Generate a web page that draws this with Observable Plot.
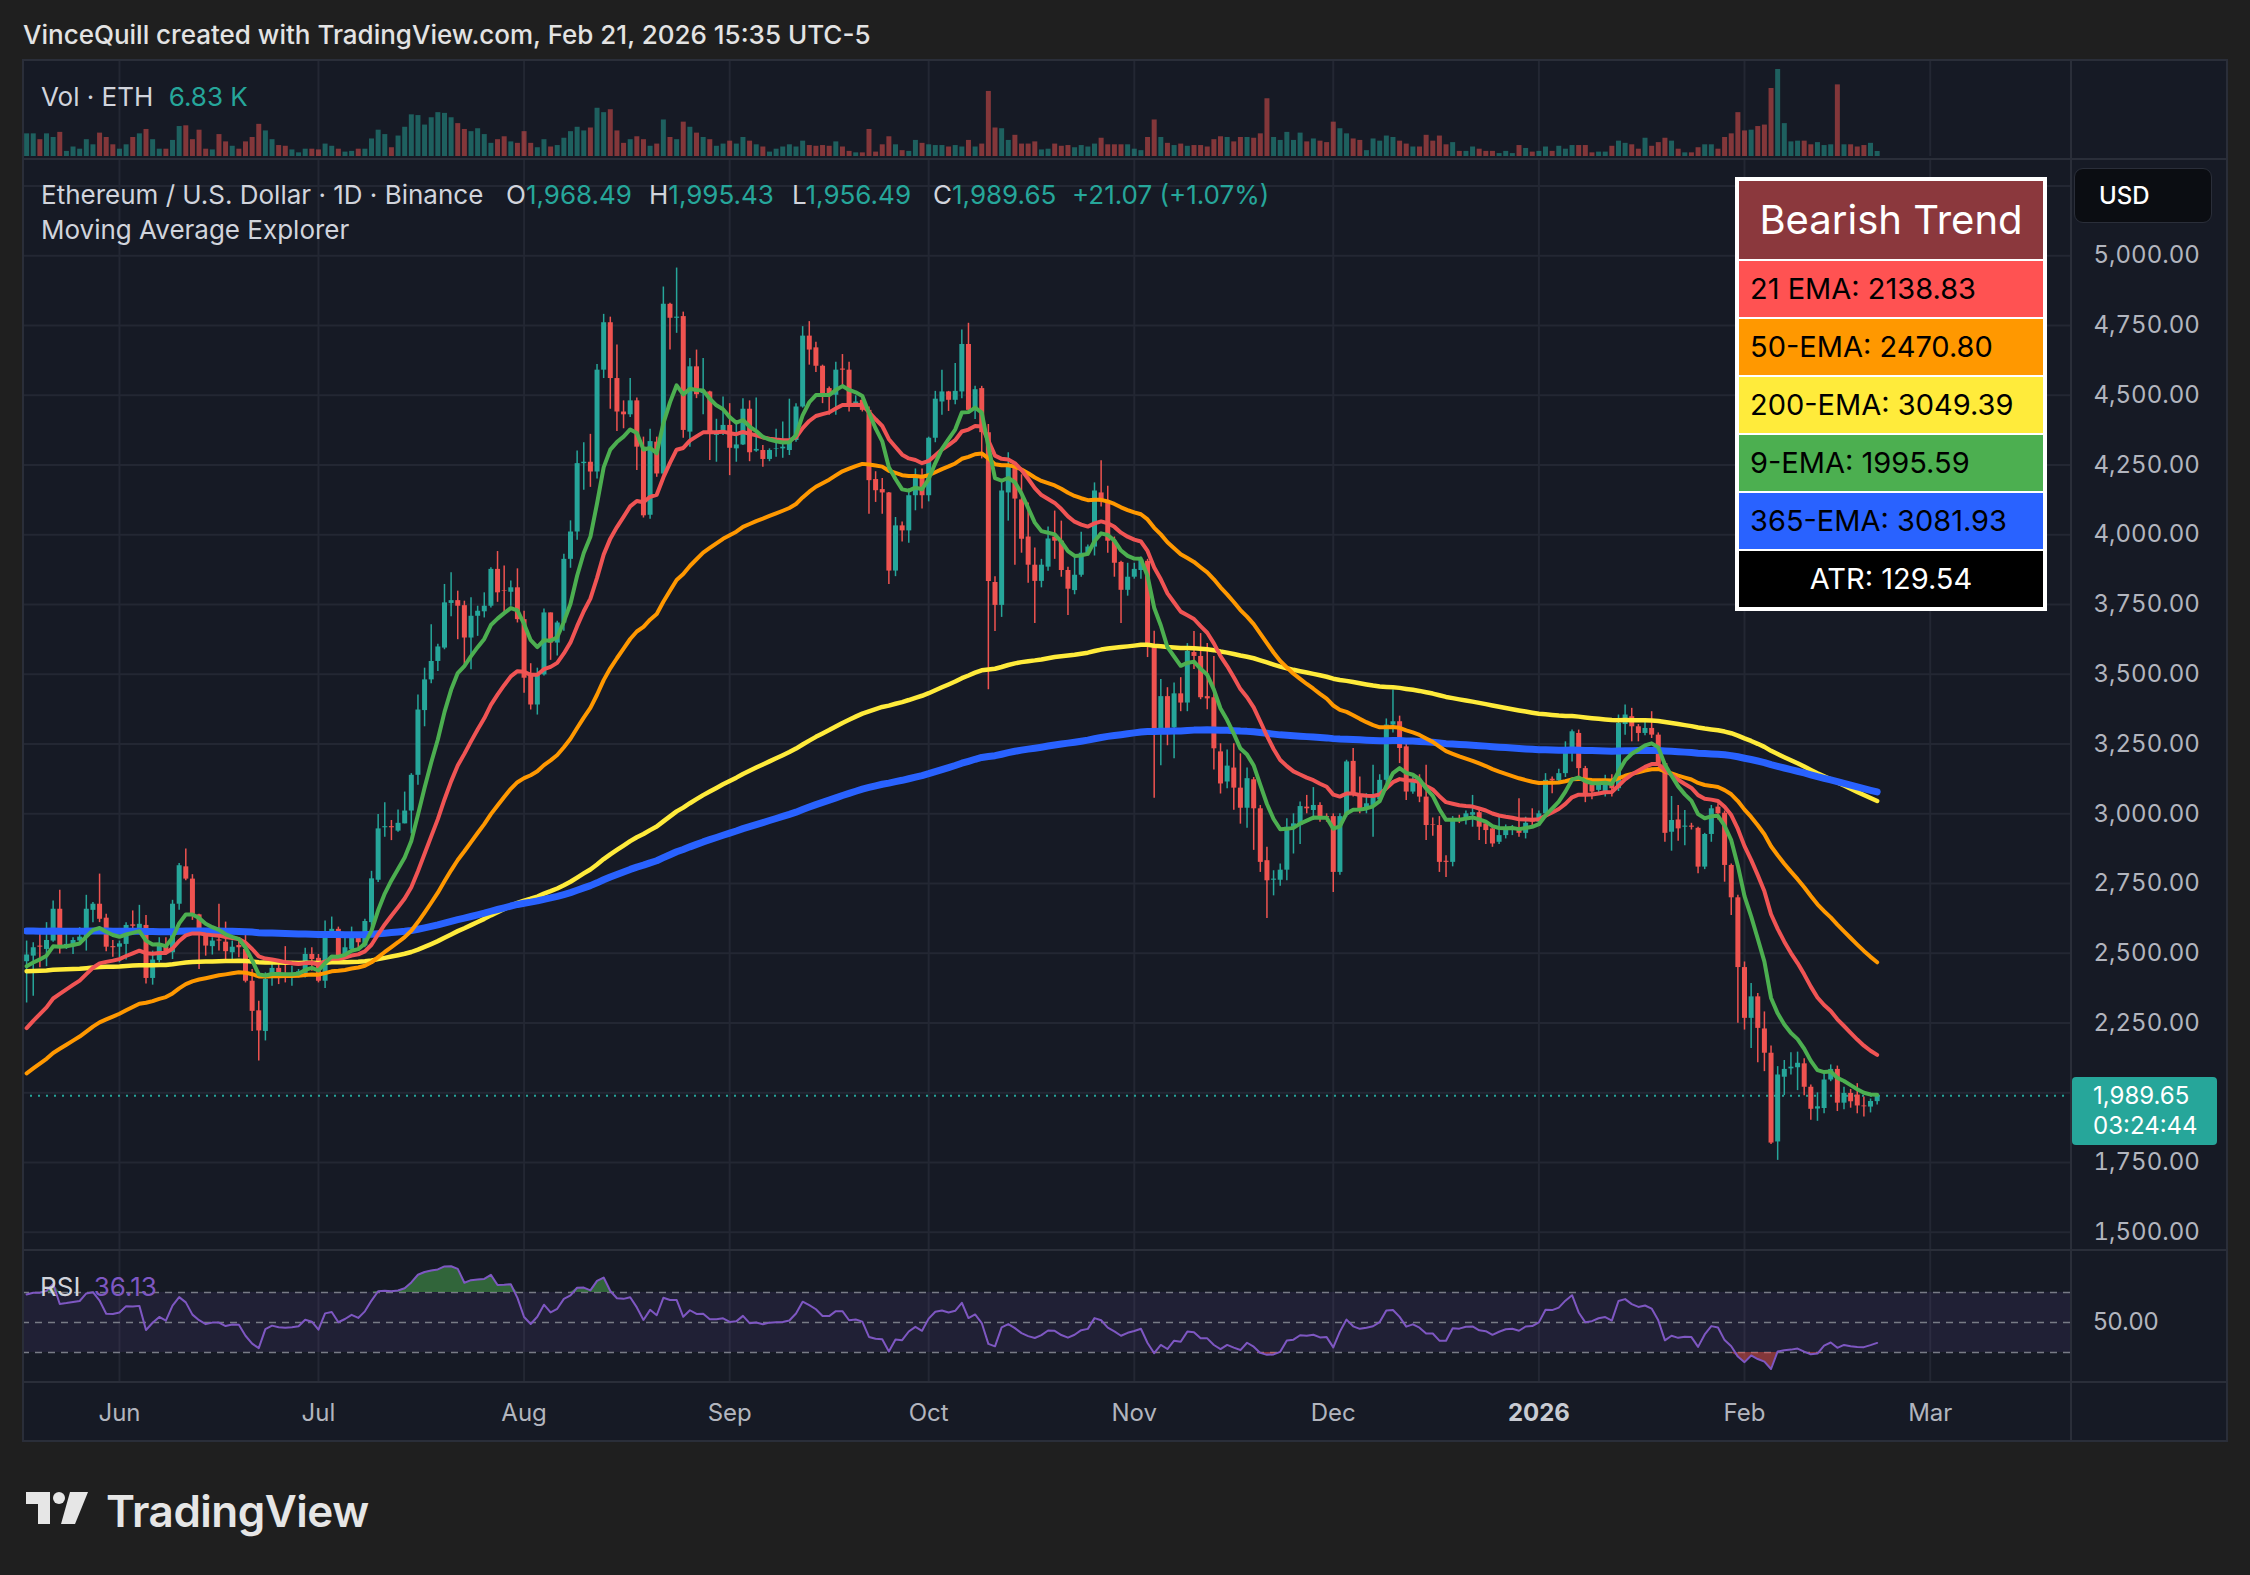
<!DOCTYPE html>
<html><head><meta charset="utf-8">
<script src="https://cdn.jsdelivr.net/npm/d3@7"></script>
<script src="https://cdn.jsdelivr.net/npm/@observablehq/plot@0.6"></script>
<style>
html,body{margin:0;padding:0;background:#1f1f1f;}
#root{position:relative;width:2250px;height:1575px;overflow:hidden;font-family:Inter,"Noto Sans",Roboto,sans-serif;}
.a{position:absolute;white-space:nowrap;}
</style></head>
<body><div id="root"></div>
<script>
// ---------------- DATA (daily ETH/USD, Binance, first bar 2025-05-18) ----------------
const firstDay = "2025-05-18";
const opens = [
2470,2490,2526,2514,2544,2658,2520,2524,2544,2558,
2654,2676,2626,2524,2522,2532,2602,2586,2600,2410,
2474,2522,2502,2676,2810,2766,2638,2574,2524,2548,
2540,2502,2528,2514,2400,2294,2220,2412,2446,2424,
2416,2422,2428,2496,2482,2400,2568,2586,2486,2514,
2562,2526,2610,2762,2950,2954,2938,2964,3010,3138,
3370,3480,3546,3594,3754,3764,3746,3630,3708,3724,
3744,3876,3800,3794,3810,3696,3498,3390,3498,3720,
3612,3684,3912,4010,4255,4260,4225,4590,4760,4560,
4440,4430,4480,4314,4070,4332,4218,4826,4776,4782,
4368,4602,4506,4512,4356,4368,4392,4308,4322,4450,
4300,4302,4270,4306,4308,4302,4338,4458,4712,4670,
4604,4524,4500,4594,4590,4464,4482,4446,4198,4162,
4150,3870,4032,4014,4140,4212,4140,4346,4476,4512,
4482,4512,4682,4445,4524,4366,3829,3747,4150,4243,
4125,3992,3891,3833,3884,3992,3977,3872,3800,3855,
3934,3956,4150,4117,3977,3901,3801,3848,3872,3905,
3603,3287,3420,3308,3430,3397,3578,3564,3420,3416,
3222,3114,3164,3092,3020,3122,3018,2832,2762,2762,
2798,2952,2958,3024,3012,3030,2990,2990,2790,2994,
3188,3066,3018,3030,3050,3120,3318,3330,3240,3078,
3114,3060,2960,2958,2830,2826,2982,2976,2995,3004,
2964,2946,2898,2922,2946,2946,2930,2976,2970,3000,
3124,3118,3144,3222,3288,3162,3102,3084,3078,3108,
3090,3320,3348,3312,3288,3306,3282,3180,2934,2978,
2952,2956,2948,2809,2926,3024,3002,2815,2699,2449,
2267,2344,2229,2142,1824,2056,2086,2090,2104,2020,
1942,1944,2046,2084,1963,1998,1992,1953,1949,1968.49];
const highs = [
2544,2538,2580,2610,2688,2726,2568,2556,2592,2708,
2682,2784,2640,2546,2544,2610,2652,2672,2636,2508,
2556,2556,2690,2822,2874,2782,2640,2580,2556,2676,
2612,2544,2544,2564,2442,2328,2430,2472,2462,2524,
2454,2442,2518,2520,2496,2616,2630,2594,2562,2594,
2574,2622,2794,2998,3040,2976,3014,3078,3144,3426,
3522,3678,3608,3822,3864,3798,3762,3774,3744,3792,
3882,3940,3888,3834,3878,3726,3538,3522,3734,3720,
3690,3930,4050,4300,4330,4360,4610,4790,4780,4680,
4480,4560,4490,4350,4378,4350,4888,4830,4956,4798,
4632,4662,4632,4514,4414,4494,4470,4404,4488,4480,
4490,4320,4308,4378,4404,4486,4470,4746,4764,4690,
4608,4530,4618,4646,4618,4498,4500,4458,4226,4202,
4152,4062,4046,4164,4236,4236,4350,4514,4590,4514,
4614,4734,4758,4532,4532,4395,3850,4193,4294,4258,
4215,4114,3953,3912,4028,4085,4049,3884,3924,4009,
3963,4186,4265,4174,3992,3905,3898,3898,3920,3912,
3654,3481,3452,3469,3488,3610,3653,3646,3610,3564,
3251,3229,3251,3215,3164,3130,3030,2880,2796,2820,
2982,3000,3042,3066,3094,3040,3000,3000,3000,3192,
3234,3132,3072,3174,3140,3340,3444,3350,3250,3130,
3140,3174,2985,2990,2850,2990,2995,3010,3066,3012,
2975,2950,2988,2960,2958,3054,2988,3018,3010,3144,
3132,3160,3258,3300,3300,3170,3110,3120,3138,3140,
3354,3390,3378,3320,3336,3366,3290,3186,3062,3030,
3012,2966,2952,2930,3030,3036,3010,2820,2708,2469,
2392,2356,2290,2168,2094,2116,2144,2146,2122,2028,
2000,2070,2100,2096,2020,2012,2033,1985,1978,1995.43];
const lows = [
2322,2346,2448,2452,2540,2498,2514,2496,2530,2508,
2610,2610,2506,2486,2466,2476,2578,2580,2390,2386,
2466,2494,2478,2654,2760,2618,2442,2490,2494,2508,
2472,2466,2484,2394,2220,2114,2186,2382,2388,2394,
2382,2412,2412,2436,2394,2374,2556,2482,2484,2506,
2508,2520,2586,2754,2916,2904,2934,2964,2928,3102,
3312,3466,3510,3588,3706,3624,3534,3516,3636,3702,
3738,3758,3720,3744,3684,3432,3372,3354,3494,3550,
3566,3654,3880,3980,4160,4170,4200,4560,4450,4370,
4380,4420,4230,4060,4056,4206,4212,4662,4722,4346,
4314,4488,4430,4266,4260,4356,4212,4260,4320,4262,
4296,4242,4262,4278,4274,4284,4332,4454,4608,4582,
4470,4428,4428,4536,4440,4458,4440,4074,4116,4074,
3822,3850,3974,3970,4086,4092,4118,4330,4428,4442,
4466,4488,4440,4413,4272,3445,3653,3704,4049,3891,
3934,3826,3682,3810,3869,3912,3848,3711,3785,3848,
3924,3924,4100,3934,3848,3682,3780,3841,3841,3560,
3056,3172,3244,3197,3366,3366,3517,3409,3373,3157,
3071,3090,3013,2963,2948,2869,2790,2625,2706,2740,
2760,2856,2890,3000,2976,2970,2970,2718,2780,2988,
3060,3000,3000,2916,3040,3100,3290,3180,3048,3070,
3040,2904,2920,2790,2772,2810,2965,2960,2952,2904,
2890,2880,2890,2910,2922,2916,2910,2952,2960,2990,
3072,3110,3130,3186,3120,3040,3050,3070,3060,3060,
3080,3282,3258,3258,3280,3270,3170,2898,2866,2902,
2886,2942,2785,2800,2898,2978,2755,2636,2249,2225,
2159,2108,2076,1815,1758,1990,2064,2008,1990,1902,
1898,1925,2040,1933,1939,1945,1925,1913,1928,1956.49];
const closes = [
2494,2520,2522,2546,2658,2520,2532,2546,2558,2658,
2676,2622,2522,2520,2534,2600,2597,2604,2410,2476,
2534,2500,2676,2814,2766,2640,2574,2526,2544,2544,
2506,2522,2520,2400,2292,2222,2406,2446,2426,2420,
2426,2434,2496,2478,2400,2570,2586,2484,2520,2568,
2538,2614,2767,2946,2954,2950,2966,3010,3138,3372,
3480,3546,3598,3756,3764,3744,3630,3708,3726,3744,
3876,3792,3798,3810,3696,3486,3390,3498,3720,3612,
3684,3912,4010,4255,4260,4225,4590,4760,4560,4440,
4430,4480,4314,4068,4334,4218,4826,4776,4780,4374,
4602,4502,4512,4368,4370,4392,4310,4322,4450,4294,
4306,4270,4302,4308,4314,4338,4458,4712,4662,4604,
4502,4500,4590,4590,4464,4476,4446,4194,4158,4150,
3870,4032,4014,4140,4212,4140,4346,4486,4512,4482,
4514,4682,4446,4520,4366,3833,3747,4157,4243,4128,
3984,3891,3833,3891,3985,3977,3872,3805,3855,3934,
3956,4157,4117,3977,3898,3801,3848,3876,3910,3603,
3287,3420,3287,3430,3397,3582,3564,3416,3412,3233,
3107,3171,3092,3020,3126,3018,2826,2760,2766,2798,
2952,2964,3026,3018,3030,2982,2986,2790,2990,3186,
3066,3018,3036,3058,3120,3318,3330,3234,3078,3114,
3060,2958,2958,2826,2826,2982,2976,3000,3004,2952,
2940,2892,2922,2946,2950,2930,2966,2970,3000,3120,
3118,3144,3222,3294,3162,3066,3078,3108,3120,3090,
3324,3354,3312,3288,3306,3282,3180,2930,2976,2946,
2956,2952,2809,2926,3018,3000,2815,2699,2449,2267,
2344,2231,2142,1820,2064,2084,2092,2106,2020,1941,
1950,2046,2084,1963,1998,1968,1953,1950,1969,1989.65];
// volume, thousands of ETH
const volumes = [
31,31,23,31,26,33,7,13,10,23,
16,32,26,16,10,16,26,31,37,23,
10,10,22,41,42,23,36,10,9,30,
20,14,10,20,26,44,35,23,15,14,
9,5,10,10,9,17,14,10,6,7,
10,10,24,36,30,12,28,40,57,56,
43,53,60,59,53,45,37,34,38,30,
18,23,27,20,18,34,18,12,23,13,
15,25,34,40,35,39,66,60,64,35,
18,23,27,23,14,17,50,26,23,47,
40,32,26,23,14,17,21,17,26,21,
16,13,6,10,13,16,13,21,15,14,
15,14,20,13,7,5,5,37,6,16,
27,16,8,7,22,18,16,15,15,13,
15,13,22,13,17,89,39,38,22,29,
17,17,20,9,10,17,14,15,12,15,
13,17,25,16,16,16,16,10,8,26,
50,26,18,15,17,14,15,15,13,23,
27,26,20,26,26,25,31,79,26,22,
33,22,32,20,24,21,19,47,38,31,
24,22,8,24,21,28,26,21,17,13,
13,29,21,28,16,19,7,7,13,10,
7,7,4,7,4,15,11,6,7,13,
7,14,10,15,15,15,5,6,6,14,
21,18,16,10,25,14,19,25,21,10,
5,5,12,16,16,10,26,31,60,35,
36,41,43,93,119,45,20,21,21,16,
19,15,16,98,16,16,13,15,18,6.83];
// indicator values on the first visible bar
const ema9Start = 2454, ema21Start = 2232, ema50Start = 2070, ema200Start = 2436, ema365Start = 2580;
const rsiAvgGainStart = 35, rsiAvgLossStart = 16;
// table / labels
const gridTicks = [1500,1750,2000,2250,2500,2750,3000,3250,3500,3750,4000,4250,4500,4750,5000,5250];
const axisTicks = [1500,1750,2250,2500,2750,3000,3250,3500,3750,4000,4250,4500,4750,5000];
const monthDates = ["2025-06-01","2025-07-01","2025-08-01","2025-09-01","2025-10-01","2025-11-01","2025-12-01","2026-01-01","2026-02-01","2026-03-01"];
const monthLabels = ["Jun","Jul","Aug","Sep","Oct","Nov","Dec","2026","Feb","Mar"];
const tableLabels = ["21 EMA: 2138.83","50-EMA: 2470.80","200-EMA: 3049.39","9-EMA: 1995.59","365-EMA: 3081.93"];
const atrLabel = "ATR: 129.54";
const trendLabel = "Bearish Trend";
const lastPrice = 1989.65, lastVolumeLabel = "6.83 K", rsiLast = "36.13", countdown = "03:24:44";
const ohlcHeader = {o:"1,968.49", h:"1,995.43", l:"1,956.49", c:"1,989.65", chg:"+21.07 (+1.07%)"};

// ---------------- BUILD ----------------
const UP = "#26a69a", DN = "#ef5350";
const t0 = Date.parse(firstDay + "T00:00:00Z");
function emaSeries(vals, period, seed){ const a = 2/(period+1); let e = seed; return vals.map((v,i)=>{ if(i>0) e = a*v + (1-a)*e; return e; }); }
const e9 = emaSeries(closes, 9, ema9Start), e21 = emaSeries(closes, 21, ema21Start), e50 = emaSeries(closes, 50, ema50Start),
      e200 = emaSeries(closes, 200, ema200Start), e365 = emaSeries(closes, 365, ema365Start);
let ag = rsiAvgGainStart, al = rsiAvgLossStart;
const rsi = closes.map((c,i)=>{ if(i>0){ const ch = c - closes[i-1]; ag = (ag*13 + Math.max(ch,0))/14; al = (al*13 + Math.max(-ch,0))/14; } return 100 - 100/(1 + ag/al); });
const rows = closes.map((c,i)=>({date:new Date(t0 + i*864e5), open:opens[i], high:highs[i], low:lows[i], close:c, vol:volumes[i],
  up: c >= opens[i], e9:e9[i], e21:e21[i], e50:e50[i], e200:e200[i], e365:e365[i], rsi:rsi[i]}));
const months = monthDates.map(s=>new Date(s+"T00:00:00Z"));
const xDomain = [new Date(Date.UTC(2025,4,17,9,7)), new Date(Date.UTC(2026,2,22,7,12))];

const root = document.getElementById("root");
function box(left, top, w, h, css){ const d=document.createElement("div"); d.className="a"; d.style.cssText += `left:${left}px;top:${top}px;width:${w}px;height:${h}px;`+(css||""); root.appendChild(d); return d; }
function txt(str, left, top, css){ const d=document.createElement("div"); d.className="a"; d.style.cssText += `left:${left}px;top:${top}px;`+(css||""); d.innerHTML=str; root.appendChild(d); return d; }
function mount(svg, left, top){ const d=document.createElement("div"); d.className="a"; d.style.left=left+"px"; d.style.top=top+"px"; d.appendChild(svg); root.appendChild(d); }

const PANE = "#161a25", LINE = "#2a2e39", GRID = "#232733";
box(22, 59, 2206, 1383, `background:${PANE};`);

const common = {width:2206, marginLeft:0, marginRight:157, marginTop:0, marginBottom:0,
  style:{background:"transparent", color:"#b2b5be", fontFamily:"Inter, 'Noto Sans', sans-serif", overflow:"visible"}};
const xOpt = {type:"utc", domain:xDomain, axis:null};

// volume pane
mount(Plot.plot({...common, height:100, marginBottom:3, x:xOpt, y:{domain:[0,132.7], axis:null},
  marks:[
    Plot.ruleX(months, {stroke:GRID, strokeWidth:2}),
    Plot.ruleX(rows, {x:"date", y1:0, y2:"vol", stroke:d=>d.up?UP:DN, strokeOpacity:0.5, strokeWidth:5})
  ]}), 22, 59);

// price pane
mount(Plot.plot({...common, height:1091, x:xOpt, y:{domain:[1435,5345]},
  marks:[
    Plot.ruleX(months, {stroke:GRID, strokeWidth:2}),
    Plot.ruleY(gridTicks, {stroke:GRID, strokeWidth:2}),
    Plot.ruleY([lastPrice], {stroke:UP, strokeWidth:2, strokeDasharray:"2,6"}),
    Plot.ruleX(rows, {x:"date", y1:"low", y2:"high", stroke:d=>d.up?UP:DN, strokeWidth:1.5}),
    Plot.ruleX(rows, {x:"date", y1:"open", y2:"close", stroke:d=>d.up?UP:DN, strokeWidth:5}),
    Plot.line(rows, {x:"date", y:"e200", stroke:"#ffeb3b", strokeWidth:4.5}),
    Plot.line(rows, {x:"date", y:"e365", stroke:"#2962ff", strokeWidth:7}),
    Plot.line(rows, {x:"date", y:"e50", stroke:"#ff9800", strokeWidth:4}),
    Plot.line(rows, {x:"date", y:"e21", stroke:"#f05454", strokeWidth:4}),
    Plot.line(rows, {x:"date", y:"e9", stroke:"#4caf50", strokeWidth:4}),
    Plot.axisY(axisTicks, {anchor:"right", tickSize:0, tickPadding:22, tickFormat:d3.format(",.2f"), fontSize:24, fill:"#b2b5be", textAnchor:"start"})
  ]}), 22, 159);

// RSI pane
mount(Plot.plot({...common, height:132, x:xOpt, y:{domain:[10,98], axis:null},
  marks:[
    Plot.ruleX(months, {stroke:GRID, strokeWidth:2}),
    Plot.rect([0], {x1:()=>xDomain[0], x2:()=>xDomain[1], y1:30, y2:70, fill:"#7e57c2", fillOpacity:0.1}),
    Plot.ruleY([30,50,70], {stroke:"#787b86", strokeWidth:1.6, strokeDasharray:"7,6"}),
    Plot.areaY(rows, {x:"date", y1:70, y2:d=>Math.max(70,d.rsi), fill:"#4caf50", fillOpacity:0.5}),
    Plot.areaY(rows, {x:"date", y1:30, y2:d=>Math.min(30,d.rsi), fill:"#ef5350", fillOpacity:0.5}),
    Plot.line(rows, {x:"date", y:"rsi", stroke:"#7e57c2", strokeWidth:2})
  ]}), 22, 1250);

// time axis
const mrows = months.map((d,i)=>({date:d, label:monthLabels[i]}));
mount(Plot.plot({...common, height:59, x:xOpt, y:{axis:null},
  marks:[
    Plot.text(mrows.filter(d=>!/^\d+$/.test(d.label)), {x:"date", text:"label", frameAnchor:"middle", fontSize:24, fill:"#b2b5be"}),
    Plot.text(mrows.filter(d=>/^\d+$/.test(d.label)), {x:"date", text:"label", frameAnchor:"middle", fontSize:24, fontWeight:700, fill:"#c8cbd3"})
  ]}), 22, 1383);

// separators / frame
box(22, 158, 2206, 2, `background:${LINE};`);
box(22, 1249, 2206, 2, `background:${LINE};`);
box(22, 1381, 2206, 2, `background:${LINE};`);
box(2070, 59, 2, 1383, `background:${LINE};`);
box(22, 59, 2206, 1383, `border:2px solid ${LINE};box-sizing:border-box;`);

// texts
const F = "font-size:26px;line-height:32px;color:#d1d4dc;";
txt("VinceQuill created with TradingView.com, Feb 21, 2026 15:35 UTC-5", 23, 19, "font-size:26px;line-height:32px;color:#e3e3e3;font-weight:500;");
txt(`Vol · ETH <span style="color:${UP};margin-left:8px">${lastVolumeLabel}</span>`, 41, 81, F);
txt("Ethereum / U.S. Dollar · 1D · Binance", 41, 179, F);
txt(`O<span style="color:${UP}">${ohlcHeader.o}</span>`, 506, 179, F);
txt(`H<span style="color:${UP}">${ohlcHeader.h}</span>`, 649, 179, F);
txt(`L<span style="color:${UP}">${ohlcHeader.l}</span>`, 792, 179, F);
txt(`C<span style="color:${UP}">${ohlcHeader.c}</span>`, 933, 179, F);
txt(`<span style="color:${UP}">${ohlcHeader.chg}</span>`, 1072, 179, F);
txt("Moving Average Explorer", 41, 214, F);
txt(`RSI <span style="color:#7e57c2;margin-left:6px">${rsiLast}</span>`, 40, 1271, F);
txt("50.00", 2093, 1307, "font-size:24px;line-height:30px;color:#b2b5be;");

// USD box
txt("USD", 2074, 168, "width:138px;height:55px;box-sizing:border-box;background:#0b0d12;border:1px solid #2a2e39;border-radius:9px;font-size:24px;line-height:53px;color:#fff;padding-left:24px;font-weight:500;");
// last price box
txt(`${d3.format(",.2f")(lastPrice)}<br>${countdown}`, 2072, 1077, `width:145px;height:68px;box-sizing:border-box;background:${UP};border-radius:4px;font-size:24px;line-height:30px;color:#fff;padding:4px 0 0 21px;`);

// legend table
const tbl = document.createElement("div"); tbl.className="a";
tbl.style.cssText = "left:1735px;top:177px;width:312px;background:#fff;padding:4px;box-sizing:border-box;";
const rowColors = ["#ff5252","#ff9800","#ffeb3b","#4caf50","#2962ff"];
let h = `<div style="background:#8b383d;height:78px;color:#fff;font-size:40px;line-height:78px;text-align:center;">${trendLabel}</div>`;
tableLabels.forEach((l,i)=>{ h += `<div style="margin-top:2px;background:${rowColors[i]};height:56px;color:#000;font-size:29px;line-height:56px;padding-left:11px;">${l}</div>`; });
h += `<div style="margin-top:2px;background:#000;height:56px;color:#fff;font-size:29px;line-height:56px;text-align:center;">${atrLabel}</div>`;
tbl.innerHTML = h; root.appendChild(tbl);

// TradingView logo
txt(`<svg width="64" height="32" viewBox="0 0 64 32"><path d="M0 0H24V32H12V12H0Z" fill="#e6e6e6"/><circle cx="33" cy="6" r="6" fill="#e6e6e6"/><path d="M44 0H62L49 32H35Z" fill="#e6e6e6"/></svg>`, 26, 1492);
txt("TradingView", 106, 1486, "font-size:44px;line-height:50px;color:#e6e6e6;font-weight:600;letter-spacing:-0.5px;");
</script></body></html>
